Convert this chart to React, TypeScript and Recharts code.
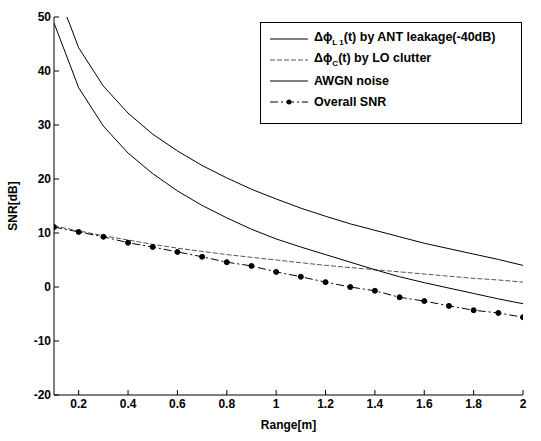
import { LineChart, Line, XAxis, YAxis } from 'recharts'

// range axis (m), 0.1 step as in the original plot
const ranges = [0.1, 0.2, 0.3, 0.4, 0.5, 0.6, 0.7, 0.8, 0.9, 1.0, 1.1, 1.2, 1.3, 1.4, 1.5, 1.6, 1.7, 1.8, 1.9, 2.0]

// SNR values (dB)
const antLeakage = [56.3, 44.3, 37.2, 32.2, 28.3, 25.2, 22.5, 20.2, 18.1, 16.3, 14.6, 13.1, 11.7, 10.5, 9.3, 8.1, 7.1, 6.1, 5.1, 4.0]
const loClutter = [11.3, 10.4, 9.5, 8.7, 7.9, 7.2, 6.6, 6.0, 5.5, 5.0, 4.5, 4.0, 3.6, 3.2, 2.8, 2.4, 2.0, 1.6, 1.3, 0.9]
const awgnNoise = [48.9, 36.9, 29.8, 24.8, 21.0, 17.8, 15.1, 12.8, 10.7, 8.9, 7.4, 6.0, 4.6, 3.2, 1.9, 0.8, -0.2, -1.2, -2.2, -3.1]
const overallSnr = [11.1, 10.2, 9.3, 8.2, 7.4, 6.5, 5.6, 4.6, 3.9, 2.8, 1.9, 0.9, 0.0, -0.7, -1.9, -2.6, -3.5, -4.3, -4.8, -5.6]

const xTicks = [0.2, 0.4, 0.6, 0.8, 1, 1.2, 1.4, 1.6, 1.8, 2]
const yTicks = [-20, -10, 0, 10, 20, 30, 40, 50]

const data = ranges.map((r, i) => ({
  range: r,
  ant: antLeakage[i],
  lo: loClutter[i],
  awgn: awgnNoise[i],
  overall: overallSnr[i],
}))

const FONT = '"Liberation Sans", Arial, sans-serif'

const BottomTick = (props: any) => {
  const { x, y, payload } = props
  return (
    <g>
      <line x1={x} x2={x} y1={y - 4} y2={y - 9} stroke="#000" />
      <text x={x} y={y} dy="0.71em" textAnchor="middle" fontSize={12} fontWeight="bold" fontFamily={FONT} fill="#000">
        {payload.value}
      </text>
    </g>
  )
}

const LeftTick = (props: any) => {
  const { x, y, payload } = props
  return (
    <g>
      <line x1={x + 3} x2={x + 8} y1={y} y2={y} stroke="#000" />
      <text x={x} y={y} dy="0.35em" textAnchor="end" fontSize={12} fontWeight="bold" fontFamily={FONT} fill="#000">
        {payload.value}
      </text>
    </g>
  )
}

const TopTick = (props: any) => {
  const { x, y } = props
  return <line x1={x} x2={x} y1={y} y2={y + 5} stroke="#000" />
}

const RightTick = (props: any) => {
  const { x, y } = props
  return <line x1={x} x2={x - 5} y1={y} y2={y} stroke="#000" />
}

function LegendBox() {
  const row = { display: 'flex', alignItems: 'center', height: 21 }
  const txt = { marginLeft: 6, fontSize: 12.5, fontWeight: 'bold' as const, fontFamily: FONT, color: '#000', whiteSpace: 'nowrap' as const }
  const sample = (dash?: string, color = '#000', dot = false) => (
    <svg width={38} height={8}>
      <line x1={0} x2={38} y1={4} y2={4} stroke={color} strokeDasharray={dash} />
      {dot && <circle cx={19} cy={4} r={2.5} fill="#000" />}
    </svg>
  )
  return (
    <div
      style={{
        position: 'absolute',
        left: 260,
        top: 22,
        width: 251,
        height: 95,
        border: '1px solid #000',
        background: '#fff',
        padding: '5px 0 0 9px',
      }}
    >
      <div style={row}>
        {sample()}
        <span style={txt}>
          Δϕ<sub style={{ fontSize: 8 }}>L 1</sub>(t) by ANT leakage(-40dB)
        </span>
      </div>
      <div style={row}>
        {sample('5 2', '#555')}
        <span style={txt}>
          Δϕ<sub style={{ fontSize: 8 }}>C</sub>(t) by LO clutter
        </span>
      </div>
      <div style={row}>
        {sample()}
        <span style={txt}>AWGN noise</span>
      </div>
      <div style={row}>
        {sample('8 3 2 3', '#000', true)}
        <span style={txt}>Overall SNR</span>
      </div>
    </div>
  )
}

export default function App() {
  return (
    <div style={{ position: 'absolute', left: 0, top: 0, width: 541, height: 441, background: '#fff' }}>
      <LineChart width={541} height={441} data={data} margin={{ top: 17, right: 18, bottom: 0, left: 0 }}>
        <XAxis
          dataKey="range"
          type="number"
          domain={[0.1, 2]}
          ticks={xTicks}
          allowDataOverflow
          height={46}
          tickSize={0}
          tickMargin={4}
          tick={BottomTick}
          axisLine={{ stroke: '#000' }}
          label={{ value: 'Range[m]', position: 'insideBottom', offset: 12, fontSize: 12, fontWeight: 'bold', fontFamily: FONT, fill: '#000' }}
        />
        <XAxis
          xAxisId="top"
          orientation="top"
          dataKey="range"
          type="number"
          domain={[0.1, 2]}
          ticks={xTicks}
          allowDataOverflow
          height={0}
          tickSize={0}
          tickMargin={0}
          tick={TopTick}
          axisLine={{ stroke: '#000' }}
        />
        <YAxis
          type="number"
          domain={[-20, 50]}
          ticks={yTicks}
          allowDataOverflow
          width={54}
          tickSize={0}
          tickMargin={3}
          tick={LeftTick}
          axisLine={{ stroke: '#000' }}
          label={{ value: 'SNR[dB]', angle: -90, position: 'insideLeft', offset: 13, fontSize: 12, fontWeight: 'bold', fontFamily: FONT, fill: '#000', style: { textAnchor: 'middle' } }}
        />
        <YAxis
          yAxisId="right"
          orientation="right"
          type="number"
          domain={[-20, 50]}
          ticks={yTicks}
          allowDataOverflow
          width={0}
          tickSize={0}
          tickMargin={0}
          tick={RightTick}
          axisLine={{ stroke: '#000' }}
        />
        <Line type="linear" dataKey="ant" stroke="#000" strokeWidth={1} dot={false} isAnimationActive={false} />
        <Line type="linear" dataKey="lo" stroke="#555" strokeWidth={1} strokeDasharray="5 2" dot={false} isAnimationActive={false} />
        <Line type="linear" dataKey="awgn" stroke="#000" strokeWidth={1} dot={false} isAnimationActive={false} />
        <Line
          type="linear"
          dataKey="overall"
          stroke="#000"
          strokeWidth={1}
          strokeDasharray="8 3 2 3"
          dot={{ r: 2.5, fill: '#000', stroke: '#000', strokeDasharray: '' }}
          isAnimationActive={false}
        />
      </LineChart>
      <LegendBox />
    </div>
  )
}
